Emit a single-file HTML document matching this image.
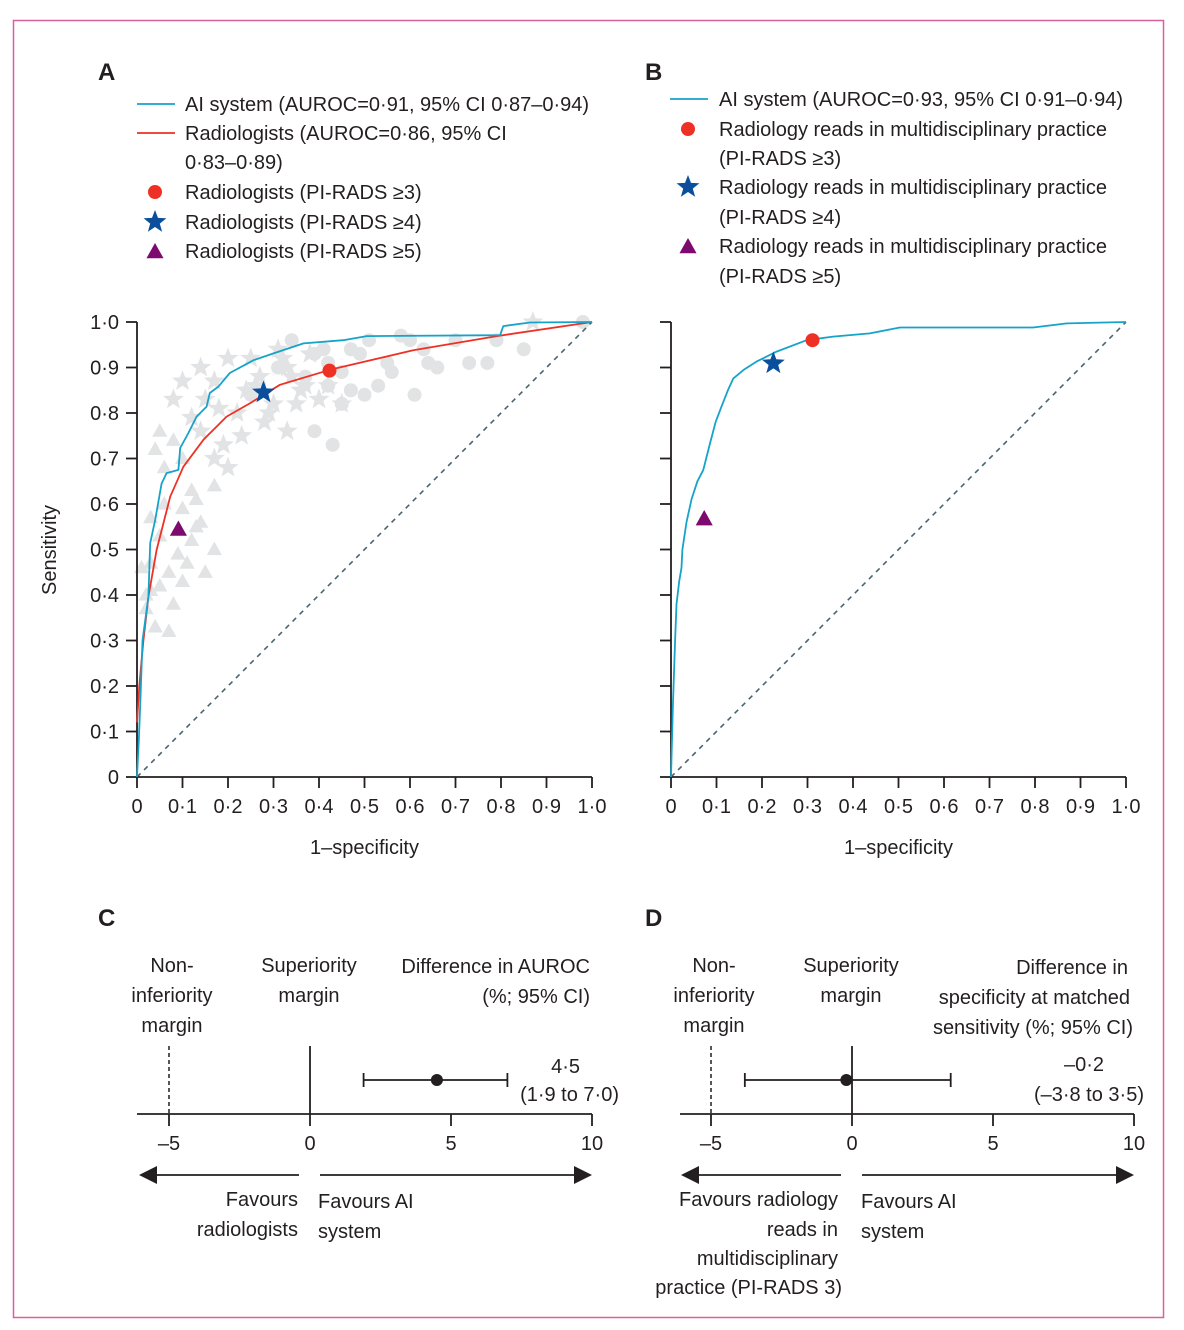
<!DOCTYPE html>
<html><head><meta charset="utf-8"><style>
html,body{margin:0;padding:0;background:#fff}
svg{display:block}
text{font-family:"Liberation Sans",sans-serif;fill:#231f20}
</style></head><body>
<svg id="fig" width="1184" height="1330" viewBox="0 0 1184 1330" xmlns="http://www.w3.org/2000/svg">
<rect x="13.5" y="20.5" width="1150" height="1297" fill="none" stroke="#d9609f" stroke-width="1.5"/>
<g id="root"></g>
</svg>
<script>
// ---------- DATA ----------
const aiA_fpr=[0,0.004,0.008,0.012,0.025,0.029,0.04,0.054,0.065,0.091,0.095,0.113,0.131,0.153,0.16,0.179,0.204,0.256,0.3,0.366,0.453,0.505,0.798,0.805,0.864,1];
const aiA_tpr=[0,0.08,0.18,0.30,0.396,0.514,0.565,0.645,0.668,0.675,0.723,0.756,0.792,0.814,0.844,0.858,0.888,0.916,0.931,0.953,0.96,0.969,0.971,0.991,0.999,1];
const radA_fpr=[0,0.005,0.014,0.025,0.043,0.073,0.102,0.146,0.197,0.248,0.314,0.424,0.607,0.791,1];
const radA_tpr=[0.12,0.2,0.30,0.396,0.499,0.616,0.682,0.741,0.792,0.821,0.862,0.895,0.938,0.969,1];
const aiB_fpr=[0,0.004,0.009,0.012,0.018,0.023,0.025,0.034,0.045,0.058,0.071,0.086,0.098,0.111,0.125,0.137,0.16,0.188,0.232,0.298,0.356,0.437,0.503,0.796,0.87,1];
const aiB_tpr=[0,0.15,0.30,0.38,0.43,0.46,0.50,0.56,0.61,0.65,0.675,0.734,0.78,0.814,0.85,0.876,0.895,0.913,0.935,0.96,0.968,0.975,0.988,0.988,0.997,1];
const ptsA_fpr=[0.423,0.278,0.091]; const ptsA_tpr=[0.893,0.845,0.544];
const ptsB_fpr=[0.311,0.225,0.073]; const ptsB_tpr=[0.96,0.909,0.567];
const triFpr=[0.01,0.02,0.03,0.03,0.04,0.05,0.05,0.06,0.07,0.07,0.08,0.09,0.1,0.1,0.11,0.12,0.13,0.15,0.17,0.17,0.02,0.04,0.06,0.08,0.13,0.14,0.03,0.05,0.1,0.12];
const triTpr=[0.46,0.37,0.47,0.41,0.33,0.42,0.53,0.60,0.32,0.45,0.38,0.49,0.43,0.59,0.47,0.52,0.55,0.45,0.64,0.50,0.40,0.72,0.68,0.74,0.61,0.56,0.57,0.76,0.70,0.63];
const starFpr=[0.08,0.1,0.12,0.14,0.15,0.17,0.19,0.2,0.22,0.24,0.25,0.27,0.28,0.3,0.31,0.33,0.35,0.36,0.38,0.4,0.42,0.45,0.17,0.2,0.23,0.26,0.29,0.32,0.34,0.37,0.14,0.18,0.87,0.33];
const starTpr=[0.83,0.87,0.79,0.76,0.83,0.87,0.73,0.92,0.80,0.85,0.92,0.88,0.78,0.82,0.94,0.9,0.82,0.85,0.93,0.83,0.86,0.82,0.70,0.68,0.75,0.86,0.80,0.92,0.88,0.86,0.90,0.81,1.0,0.76];
const circFpr=[0.34,0.39,0.42,0.45,0.47,0.5,0.53,0.55,0.58,0.61,0.63,0.66,0.7,0.73,0.77,0.79,0.85,0.47,0.51,0.56,0.6,0.64,0.39,0.43,0.37,0.41,0.45,0.49,0.42,0.25,0.31,0.98];
const circTpr=[0.96,0.93,0.91,0.89,0.94,0.84,0.86,0.91,0.97,0.84,0.94,0.90,0.96,0.91,0.91,0.96,0.94,0.85,0.96,0.89,0.96,0.91,0.76,0.73,0.88,0.94,0.82,0.93,0.86,0.84,0.90,1.0];
const xTicks=["0","0·1","0·2","0·3","0·4","0·5","0·6","0·7","0·8","0·9","1·0"];
const yTicks=["0","0·1","0·2","0·3","0·4","0·5","0·6","0·7","0·8","0·9","1·0"];
const diffC=[4.5,1.9,7.0]; const diffD=[-0.2,-3.8,3.5];
const forestTicks=[-5,0,5,10];

const NS="http://www.w3.org/2000/svg";
const root=document.getElementById('root');
function el(tag,attrs,parent){const e=document.createElementNS(NS,tag);for(const k in attrs)e.setAttribute(k,attrs[k]);(parent||root).appendChild(e);return e;}
function txt(x,y,s,size,anchor,name,parent){const t=el('text',{x:x,y:y,'font-size':size,'text-anchor':anchor||'start'},parent);t.textContent=s;


return t;}
function starPath(cx,cy,r){let d='';for(let i=0;i<10;i++){const rr=i%2?r*0.42:r;const a=-Math.PI/2+i*Math.PI/5;d+=(i?'L':'M')+(cx+rr*Math.cos(a)).toFixed(1)+' '+(cy+rr*Math.sin(a)).toFixed(1);}return d+'Z';}
function triPath(cx,cy,r){return `M${cx} ${cy-r}L${cx+r*0.95} ${cy+r*0.7}L${cx-r*0.95} ${cy+r*0.7}Z`;}

const Y0=777,Y1=322;
function rocPanel(x0,x1,name,letter,grey,lx){
  const g=el('g',{});
  
  
  const sx=v=>x0+v*(x1-x0), sy=v=>Y0+v*(Y1-Y0);
  if(grey){
    for(let i=0;i<triFpr.length;i++){const p=el('path',{d:triPath(sx(triFpr[i]),sy(triTpr[i]),8),fill:'#e2e3e4'},g);
      
      }
    for(let i=0;i<starFpr.length;i++){const p=el('path',{d:starPath(sx(starFpr[i]),sy(starTpr[i]),11),fill:'#e2e3e4'},g);
      
      }
    for(let i=0;i<circFpr.length;i++){const p=el('circle',{cx:sx(circFpr[i]),cy:sy(circTpr[i]),r:7,fill:'#e2e3e4'},g);
      
      }
  }
  const dg=el('line',{x1:sx(0),y1:sy(0),x2:sx(1),y2:sy(1),stroke:'#4b6470','stroke-width':1.6,'stroke-dasharray':'5 5'},g);
  
  
  const ax=el('path',{d:`M${x0} ${Y1}V${Y0}H${x1}`,fill:'none',stroke:'#231f20','stroke-width':1.8},g);
  
  
  for(let i=0;i<xTicks.length;i++){const v=i/10;
    const t=el('line',{x1:sx(v),y1:Y0,x2:sx(v),y2:Y0+11,stroke:'#231f20','stroke-width':1.8},g);
    
    
    txt(sx(v),Y0+36,xTicks[i],20,'middle','x-tick-label',g);
    const u=el('line',{x1:x0-11,y1:sy(v),x2:x0,y2:sy(v),stroke:'#231f20','stroke-width':1.8},g);
    
    
    if(grey) txt(x0-18,sy(v)+7,yTicks[i],20,'end','y-tick-label',g);
  }
  txt((x0+x1)/2,Y0+77,'1–specificity',20,'middle','x-axis-title',g);
  txt(lx,80,letter,24,'start','panel-label-'+letter.toLowerCase(),g).setAttribute('font-weight','bold');
  return {g,sx,sy};
}
function curve(p,fx,fy,color,name){let d='';for(let i=0;i<fx.length;i++){
    d+=(i?'L':'M')+p.sx(fx[i]).toFixed(1)+' '+p.sy(fy[i]).toFixed(1);}
  const e=el('path',{d:d,fill:'none',stroke:color,'stroke-width':1.8,'stroke-linejoin':'round'},p.g);
  
  }
function markers(p,fx,fy){
  const c=el('circle',{cx:p.sx(fx[0]),cy:p.sy(fy[0]),r:7,fill:'#ee3124'},p.g);
  
  
  const s=el('path',{d:starPath(p.sx(fx[1]),p.sy(fy[1]),12),fill:'#0b4f9c'},p.g);
  
  
  const t=el('path',{d:triPath(p.sx(fx[2]),p.sy(fy[2]),9),fill:'#7d0a6e'},p.g);
  
  
}
const A=rocPanel(137,592,'roc-panel-a','A',true,98);
curve(A,radA_fpr,radA_tpr,'#ee3124','radiologists-roc-curve');
curve(A,aiA_fpr,aiA_tpr,'#16a3c9','ai-roc-curve-a');
markers(A,ptsA_fpr,ptsA_tpr);
const yt=txt(56,550,'Sensitivity',20,'middle','y-axis-title',A.g); yt.setAttribute('transform','rotate(-90 56 550)');
const B=rocPanel(671,1126,'roc-panel-b','B',false,645);
curve(B,aiB_fpr,aiB_tpr,'#16a3c9','ai-roc-curve-b');
markers(B,ptsB_fpr,ptsB_tpr);

function legend(lx,tx,rows,name){const g=el('g',{});
  
  
  rows.forEach(r=>{
    if(r.k==='line'){el('line',{x1:lx,y1:r.y-7,x2:lx+38,y2:r.y-7,stroke:r.c,'stroke-width':1.8},g);}
    if(r.k==='circle'){el('circle',{cx:lx+18,cy:r.y-7,r:7,fill:'#ee3124'},g);}
    if(r.k==='star'){el('path',{d:starPath(lx+18,r.y-7,12),fill:'#0b4f9c'},g);}
    if(r.k==='tri'){el('path',{d:triPath(lx+18,r.y-6,9),fill:'#7d0a6e'},g);}
    txt(tx,r.y,r.t,20,'start','legend-entry',g);
  });}
legend(137,185,[{k:'line',c:'#16a3c9',y:111,t:'AI system (AUROC=0·91, 95% CI 0·87–0·94)'},{k:'line',c:'#ee3124',y:140,t:'Radiologists (AUROC=0·86, 95% CI'},{k:'',y:169,t:'0·83–0·89)'},{k:'circle',y:199,t:'Radiologists (PI-RADS ≥3)'},{k:'star',y:229,t:'Radiologists (PI-RADS ≥4)'},{k:'tri',y:258,t:'Radiologists (PI-RADS ≥5)'}],'legend-a');
legend(670,719,[{k:'line',c:'#16a3c9',y:106,t:'AI system (AUROC=0·93, 95% CI 0·91–0·94)'},{k:'circle',y:136,t:'Radiology reads in multidisciplinary practice'},{k:'',y:165,t:'(PI-RADS ≥3)'},{k:'star',y:194,t:'Radiology reads in multidisciplinary practice'},{k:'',y:224,t:'(PI-RADS ≥4)'},{k:'tri',y:253,t:'Radiology reads in multidisciplinary practice'},{k:'',y:283,t:'(PI-RADS ≥5)'}],'legend-b');

function forest(zeroX,left,right,vals,name,letter,lx){
  const g=el('g',{});
  
  
  const s=v=>zeroX+v*28.2;const AY=1114;
  txt(lx,926,letter,24,'start','panel-label-'+letter.toLowerCase(),g).setAttribute('font-weight','bold');
  el('line',{x1:left,y1:AY,x2:right,y2:AY,stroke:'#231f20','stroke-width':1.8},g);
  forestTicks.forEach(t=>{el('line',{x1:s(t),y1:AY,x2:s(t),y2:AY+12,stroke:'#231f20','stroke-width':1.8},g);
    txt(s(t),AY+36,t<0?'–'+(-t):String(t),20,'middle','forest-tick-label',g);});
  el('line',{x1:s(-5),y1:1046,x2:s(-5),y2:AY,stroke:'#231f20','stroke-width':1.5,'stroke-dasharray':'4 3'},g);
  el('line',{x1:s(0),y1:1046,x2:s(0),y2:AY,stroke:'#231f20','stroke-width':1.8},g);
  const ci=el('path',{d:`M${s(vals[1])} 1080H${s(vals[2])}M${s(vals[1])} 1073V1087M${s(vals[2])} 1073V1087`,stroke:'#231f20','stroke-width':1.8,fill:'none'},g);
  
  
  const pt=el('circle',{cx:s(vals[0]),cy:1080,r:6,fill:'#231f20'},g);
  
  
  el('path',{d:`M${s(-5)-13} 1175H${s(0)-11}`,stroke:'#231f20','stroke-width':1.8},g);
  el('path',{d:`M${s(-5)-30} 1175L${s(-5)-12} 1166V1184Z`,fill:'#231f20'},g);
  el('path',{d:`M${s(0)+10} 1175H${right-14}`,stroke:'#231f20','stroke-width':1.8},g);
  el('path',{d:`M${right} 1175L${right-18} 1166V1184Z`,fill:'#231f20'},g);
  txt(s(-5)+3,972,'Non-',20,'middle','non-inferiority-label',g);
  txt(s(-5)+3,1002,'inferiority',20,'middle','non-inferiority-label',g);
  txt(s(-5)+3,1032,'margin',20,'middle','non-inferiority-label',g);
  txt(s(0)-1,972,'Superiority',20,'middle','superiority-label',g);
  txt(s(0)-1,1002,'margin',20,'middle','superiority-label',g);
  return {g,s};
}
const C=forest(310,137,592,diffC,'forest-panel-c','C',98);
txt(590,973,'Difference in AUROC',20,'end','c-title',C.g);
txt(590,1003,'(%; 95% CI)',20,'end','c-title',C.g);
txt(580,1073,'4·5',20,'end','c-estimate',C.g);
txt(619,1101,'(1·9 to 7·0)',20,'end','c-ci-text',C.g);
txt(298,1206,'Favours',20,'end','favours-left',C.g);
txt(298,1236,'radiologists',20,'end','favours-left',C.g);
txt(318,1208,'Favours AI',20,'start','favours-right',C.g);
txt(318,1238,'system',20,'start','favours-right',C.g);

const D=forest(852,680,1134,diffD,'forest-panel-d','D',645);
txt(1128,974,'Difference in',20,'end','d-title',D.g);
txt(1130,1004,'specificity at matched',20,'end','d-title',D.g);
txt(1133,1034,'sensitivity (%; 95% CI)',20,'end','d-title',D.g);
txt(1104,1071,'–0·2',20,'end','d-estimate',D.g);
txt(1144,1101,'(–3·8 to 3·5)',20,'end','d-ci-text',D.g);
txt(838,1206,'Favours radiology',20,'end','favours-left',D.g);
txt(838,1236,'reads in',20,'end','favours-left',D.g);
txt(838,1265,'multidisciplinary',20,'end','favours-left',D.g);
txt(842,1294,'practice (PI-RADS 3)',20,'end','favours-left',D.g);
txt(861,1208,'Favours AI',20,'start','favours-right',D.g);
txt(861,1238,'system',20,'start','favours-right',D.g);
</script>
</body></html>
